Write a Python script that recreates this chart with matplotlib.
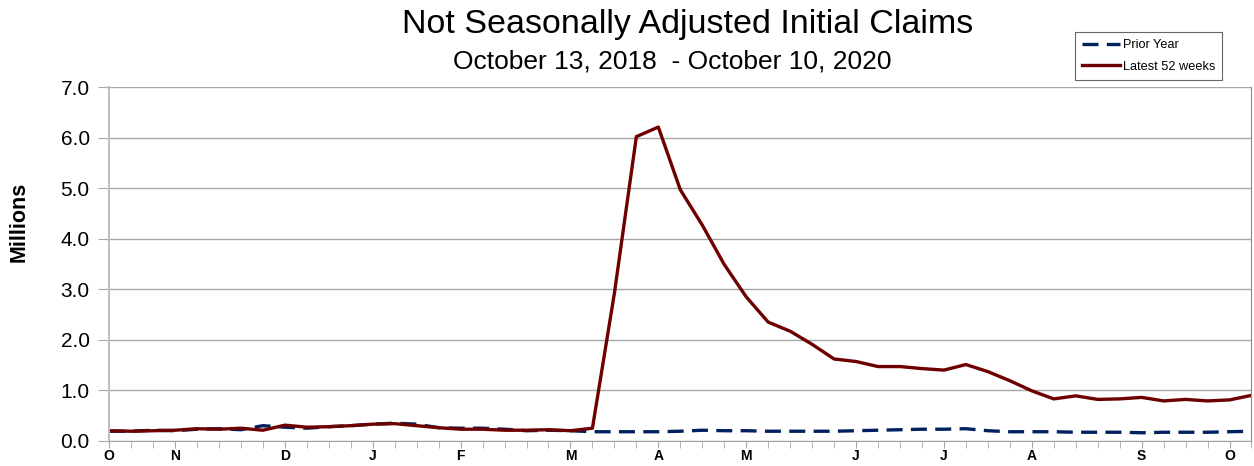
import numpy as np
import matplotlib
matplotlib.use("Agg")
import matplotlib.pyplot as plt

plt.rcParams["font.family"] = ["Liberation Sans", "DejaVu Sans"]

# weekly NSA initial claims, millions (53 weeks)
latest_52 = [0.20, 0.19, 0.20, 0.21, 0.24, 0.23, 0.25, 0.21, 0.31, 0.27,
             0.28, 0.30, 0.33, 0.34, 0.30, 0.26, 0.23, 0.23, 0.21, 0.21,
             0.22, 0.20, 0.25, 2.92, 6.02, 6.21, 4.97, 4.27, 3.49, 2.85,
             2.35, 2.17, 1.91, 1.62, 1.57, 1.47, 1.47, 1.43, 1.40, 1.51,
             1.37, 1.19, 0.99, 0.83, 0.89, 0.82, 0.83, 0.86, 0.79, 0.82,
             0.79, 0.81, 0.90]
prior_year = [0.19, 0.19, 0.21, 0.20, 0.23, 0.24, 0.22, 0.30, 0.27, 0.25,
              0.28, 0.30, 0.33, 0.35, 0.33, 0.26, 0.25, 0.25, 0.23, 0.20,
              0.21, 0.20, 0.18, 0.18, 0.18, 0.18, 0.19, 0.21, 0.20, 0.20,
              0.19, 0.19, 0.19, 0.19, 0.20, 0.21, 0.22, 0.23, 0.23, 0.24,
              0.20, 0.18, 0.18, 0.18, 0.17, 0.17, 0.17, 0.16, 0.17, 0.17,
              0.17, 0.18, 0.19]
month_pos = [0, 3, 8, 12, 16, 21, 25, 29, 34, 38, 42, 47, 51]
month_labels = ["O", "N", "D", "J", "F", "M", "A", "M", "J", "J", "A", "S", "O"]
y_ticks = [0, 1, 2, 3, 4, 5, 6, 7]

weeks = np.arange(len(latest_52))

fig = plt.figure(figsize=(12.54, 4.66), dpi=100)
ax = fig.add_axes([0.087, 0.054, 0.911, 0.759])

ax.plot(weeks, prior_year, color="#002060", lw=2.4, dashes=(4.8, 2.5),
        label="Prior Year")
ax.plot(weeks, latest_52, color="#6e0000", lw=2.4, label="Latest 52 weeks")

ax.set_xlim(0, len(weeks) - 1)
ax.set_ylim(0, 7)
ax.set_yticks(y_ticks)
ax.set_yticklabels([f"{v:.1f}" for v in y_ticks], fontsize=15)
ax.yaxis.grid(True, color="#a6a6a6", lw=1)
ax.set_axisbelow(True)

# week ticks (marks only) and month labels
ax.set_xticks(weeks, minor=True)
ax.set_xticks(month_pos)
ax.set_xticklabels(month_labels, fontsize=10, fontweight="bold")
ax.tick_params(axis="x", which="both", length=5, color="#a6a6a6", pad=1)
ax.tick_params(axis="y", length=8, color="#a6a6a6", pad=6)

ax.spines["top"].set_visible(False)
ax.spines["left"].set_color("#bfbfbf")
ax.spines["left"].set_linewidth(1.5)
ax.spines["bottom"].set_color("#a6a6a6")
ax.spines["right"].set_color("#8c8c8c")

ax.set_ylabel("Millions", fontsize=15.5, fontweight="bold")
ax.yaxis.set_label_coords(-0.07, 0.62)

fig.text(0.548, 0.947, "Not Seasonally Adjusted Initial Claims", ha="center",
         va="center", fontsize=24.5)
fig.text(0.536, 0.869, "October 13, 2018  - October 10, 2020", ha="center",
         va="center", fontsize=19)

leg = fig.legend(loc="upper left", bbox_to_anchor=(0.852, 0.945),
                 fontsize=9.2, frameon=True, fancybox=False, handlelength=3.0,
                 handletextpad=0.2, borderpad=0.55, labelspacing=0.75)
leg.get_frame().set_edgecolor("#404040")
leg.get_frame().set_linewidth(0.8)

plt.savefig("out.png", dpi=100)
plt.close(fig)
